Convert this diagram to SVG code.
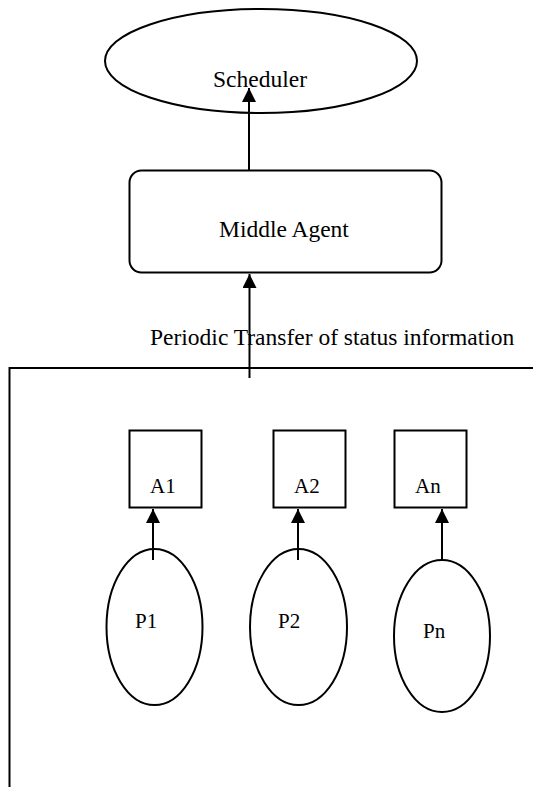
<svg xmlns="http://www.w3.org/2000/svg" width="533" height="787" viewBox="0 0 533 787">
<defs>
<style>
.s{fill:none;stroke:#000;stroke-width:2}
.n{fill:#fff;stroke:#000;stroke-width:2}
.t{font-family:"Liberation Serif","Times New Roman",serif;fill:#000}
.big{font-size:23.5px}
.sm{font-size:21px}
</style>
<marker id="ah" viewBox="0 0 14 14" refX="14" refY="7" markerWidth="14" markerHeight="14" markerUnits="userSpaceOnUse" orient="auto">
<path d="M0,0 L14,7 L0,14 Z" fill="#000"/>
</marker>
</defs>
<rect width="533" height="787" fill="#fff"/>
<g id="frame">
<path class="s" d="M533,368 H9.5 V787"/>
</g>
<g id="scheduler">
<ellipse class="n" cx="261" cy="61" rx="156" ry="52"/>
<text class="t big" x="213" y="87">Scheduler</text>
</g>
<g id="middle-agent">
<rect class="n" x="129.5" y="170.5" width="312" height="102" rx="12"/>
<text class="t big" x="219" y="237">Middle Agent</text>
</g>
<g id="transfer-label">
<text class="t big" x="150" y="345">Periodic Transfer of status information</text>
</g>
<g id="A1">
<rect class="n" x="129.5" y="430.5" width="72" height="77"/>
<text class="t sm" x="150" y="493">A1</text>
</g>
<g id="A2">
<rect class="n" x="273.5" y="430.5" width="72" height="77"/>
<text class="t sm" x="294" y="493">A2</text>
</g>
<g id="An">
<rect class="n" x="394.5" y="430.5" width="72" height="77"/>
<text class="t sm" x="415" y="493">An</text>
</g>
<g id="P1">
<ellipse class="n" cx="154.5" cy="627" rx="48" ry="78"/>
<text class="t sm" x="135" y="628">P1</text>
</g>
<g id="P2">
<ellipse class="n" cx="298.5" cy="627" rx="48.5" ry="78"/>
<text class="t sm" x="278" y="628">P2</text>
</g>
<g id="Pn">
<ellipse class="n" cx="442" cy="636" rx="48" ry="76"/>
<text class="t sm" x="423" y="638">Pn</text>
</g>
<g id="connectors">
<line class="s" x1="249" y1="170" x2="249" y2="88" marker-end="url(#ah)"/>
<line class="s" x1="249.5" y1="378" x2="249.5" y2="274" marker-end="url(#ah)"/>
<line class="s" x1="153" y1="560" x2="153" y2="509" marker-end="url(#ah)"/>
<line class="s" x1="298" y1="560" x2="298" y2="509" marker-end="url(#ah)"/>
<line class="s" x1="442" y1="560" x2="442" y2="509" marker-end="url(#ah)"/>
</g>
</svg>
